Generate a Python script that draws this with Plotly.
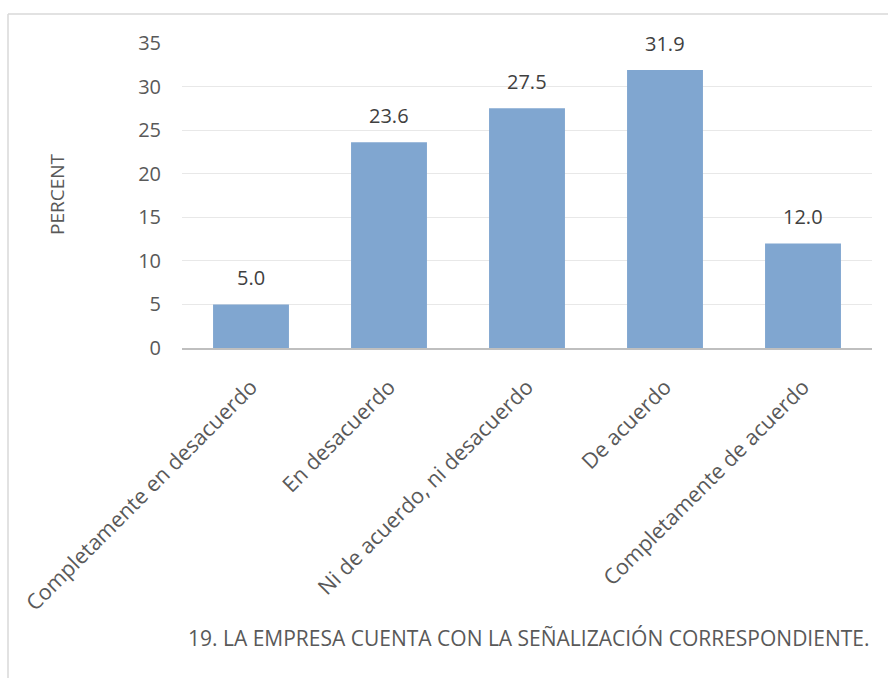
import plotly.graph_objects as go

categories = ["Completamente en desacuerdo", "En desacuerdo", "Ni de acuerdo, ni desacuerdo",
              "De acuerdo", "Completamente de acuerdo"]
values = [5.0, 23.6, 27.5, 31.9, 12.0]
y_ticks = [0, 5, 10, 15, 20, 25, 30, 35]
title_text = "19. LA EMPRESA CUENTA CON LA SEÑALIZACIÓN CORRESPONDIENTE."
y_title = "PERCENT"

W, H = 888, 678
L, R, T, B = 182, 16, 43, 330
FONT = "Open Sans"
FS = 20

fig = go.Figure(go.Bar(
    x=categories, y=values,
    marker=dict(color="#80A6D0", line=dict(width=0)),
    width=0.55,
    cliponaxis=False,
))

label_anns = [
    dict(x=c, y=v, xref="x", yref="y", text=f"{v:.1f}", showarrow=False,
         yanchor="bottom", yshift=11, font=dict(family=FONT, size=FS, color="#404040"))
    for c, v in zip(categories, values)
]

fig.update_layout(
    width=W, height=H,
    margin=dict(l=L, r=R, t=T, b=B),
    paper_bgcolor="white", plot_bgcolor="white",
    showlegend=False,
    font=dict(family=FONT, size=FS, color="#595959"),
    xaxis=dict(tickangle=-45, showgrid=False, showline=True, linecolor="#BFBFBF", linewidth=2,
               ticks="", ticklabelstandoff=16,
               tickfont=dict(family=FONT, size=21.5, color="#595959")),
    yaxis=dict(range=[0, 35], tickvals=y_ticks, showgrid=True, gridcolor="#E8E8E8", gridwidth=1,
               zeroline=False, showline=False, ticks="", ticklabelstandoff=20,
               tickfont=dict(family=FONT, size=FS, color="#595959")),
    annotations=label_anns + [
        dict(text=y_title, xref="paper", yref="paper",
             x=(57 - L) / (W - L - R), y=1 - (194 - T) / (H - T - B),
             xanchor="center", yanchor="middle",
             textangle=-90, showarrow=False, font=dict(family=FONT, size=19, color="#595959")),
        dict(text=title_text, xref="paper", yref="paper",
             x=(528 - L) / (W - L - R), y=1 - (638 - T) / (H - T - B),
             xanchor="center", yanchor="middle",
             showarrow=False, font=dict(family=FONT, size=21, color="#595959")),
    ],
    shapes=[
        dict(type="line", xref="paper", yref="paper",
             x0=(8 - L) / (W - L - R), x1=(W + 5 - L) / (W - L - R),
             y0=1 - (14 - T) / (H - T - B), y1=1 - (14 - T) / (H - T - B),
             line=dict(color="#D9D9D9", width=1.5)),
        dict(type="line", xref="paper", yref="paper",
             x0=(8 - L) / (W - L - R), x1=(8 - L) / (W - L - R),
             y0=1 - (14 - T) / (H - T - B), y1=1 - (H + 5 - T) / (H - T - B),
             line=dict(color="#D9D9D9", width=1.5)),
    ],
)

fig.write_html("out.html")
